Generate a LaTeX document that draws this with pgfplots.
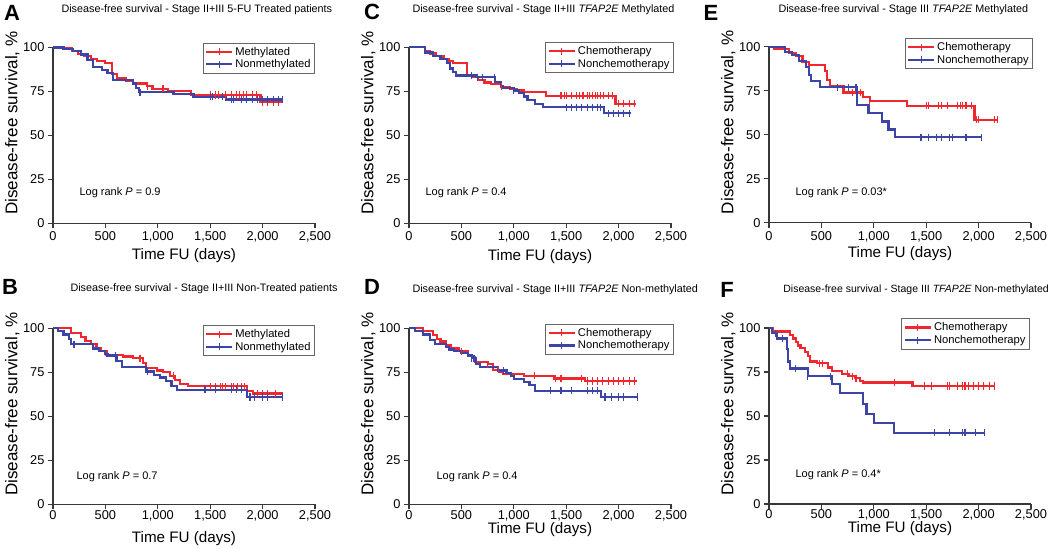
\documentclass[border=0pt]{standalone}
\usepackage{pgfplots}
\pgfplotsset{compat=1.18}
\usepackage{fontspec}
\setmainfont{Liberation Sans}
\definecolor{kmred}{RGB}{238,40,46}
\definecolor{kmblue}{RGB}{60,68,166}
\definecolor{axgray}{RGB}{55,55,55}
\pgfplotsset{
  km/.style={
    scale only axis, width=262pt, height=176pt,
    xmin=0, xmax=2500, ymin=0, ymax=100,
    axis x line=bottom, axis y line=left,
    axis line style={-, line width=1.1pt, axgray},
    tick align=outside, major tick length=5pt,
    tick style={line width=1.1pt, axgray},
    xtick={0,500,1000,1500,2000,2500}, ytick={0,25,50,75,100},
    ticklabel style={font=\fontsize{12.8}{14}\selectfont},
    /pgf/number format/assume math mode=true,
    xlabel={Time FU (days)}, ylabel={Disease-free survival, \%},
    xlabel style={font=\fontsize{15.2}{17}\selectfont, anchor=center},
    ylabel style={font=\fontsize{17}{19}\selectfont, at={(axis description cs:-0.155,0.57)}, anchor=center},
    clip=false,
    legend style={font=\fontsize{11.2}{12.5}\selectfont, draw=black!60, line width=0.8pt,
      anchor=north east, inner sep=2pt, cells={anchor=west}, row sep=-1pt},
    legend image code/.code={
      \draw[##1] (0pt,0pt) -- (26pt,0pt);
      \draw[##1, line width=1.1pt] (13pt,-3.5pt) -- (13pt,3.5pt);
    },
  },
  row2/.style={xticklabel style={yshift=2.5pt}},
  redline/.style={kmred, line width=2.2pt, const plot},
  blueline/.style={kmblue, line width=2.2pt, const plot},
  redcens/.style={kmred, only marks, mark=|, mark size=3.6pt, mark options={line width=1.1pt}, forget plot},
  bluecens/.style={kmblue, only marks, mark=|, mark size=3.6pt, mark options={line width=1.1pt}, forget plot},
}
\begin{document}
\begin{tikzpicture}
\path[use as bounding box] (0pt,0pt) rectangle (1050pt,549pt);

% ---------------- A ----------------
\begin{axis}[km, at={(53pt,325.5pt)}, anchor=south west,
  xlabel style={at={(axis description cs:0.5,-0.185)}},
  legend style={at={(axis description cs:1.0,1.028)}}]
\addplot[redline] coordinates {(0,100) (80,99.5) (180,98) (240,96.5) (300,95) (360,93.5) (420,92.5) (500,91) (565,85) (610,82.5) (700,81) (760,79.5) (900,78) (950,76.5) (1100,75.5) (1320,73) (1980,69) (2190,69)};
\addplot[blueline] coordinates {(0,100) (100,99) (190,98) (270,96) (330,93) (380,89) (470,87) (520,85.5) (570,81.5) (760,79.5) (790,77) (820,74.5) (1150,73.5) (1340,72) (1650,70.5) (2190,70.5)};
\addplot[redcens] coordinates {(900,78) (1050,76.5) (1500,73) (1550,73) (1580,73) (1650,73) (1700,73) (1750,73) (1780,73) (1820,73) (1850,73) (1900,73) (1940,73) (2000,69) (2050,69) (2100,69) (2150,69)};
\addplot[bluecens] coordinates {(830,74.5) (1500,72) (1520,72) (1620,72) (1700,70.5) (1720,70.5) (1800,70.5) (1850,70.5) (1900,70.5) (1950,70.5) (2000,70.5) (2050,70.5) (2100,70.5) (2150,70.5) (2190,70.5)};
\legend{Methylated, Nonmethylated}
\end{axis}

% ---------------- C ----------------
\begin{axis}[km, at={(409pt,325.7pt)}, anchor=south west,
  xlabel style={at={(axis description cs:0.5,-0.19)}},
  legend style={at={(axis description cs:1.011,1.03)}}]
\addplot[redline] coordinates {(0,100) (150,98) (200,96.5) (260,95) (330,93.5) (380,92) (420,91) (550,84) (610,83) (660,81.5) (720,80) (780,79) (880,77.5) (960,76.5) (1030,75.5) (1100,74.5) (1310,72.5) (1970,68) (2170,68)};
\addplot[blueline] coordinates {(0,100) (150,97) (230,95) (300,93.5) (360,91) (390,88) (420,86) (450,84) (650,83) (820,80.5) (880,78) (900,77) (1000,75.5) (1050,74) (1100,72) (1130,70) (1200,68) (1280,66) (1860,62.5) (2120,62.5)};
\addplot[redcens] coordinates {(880,77.5) (1450,72.5) (1480,72.5) (1500,72.5) (1550,72.5) (1600,72.5) (1630,72.5) (1660,72.5) (1700,72.5) (1720,72.5) (1750,72.5) (1780,72.5) (1800,72.5) (1830,72.5) (1860,72.5) (1900,72.5) (1940,72.5) (2000,68) (2050,68) (2100,68) (2150,68)};
\addplot[bluecens] coordinates {(600,84) (650,83) (700,83) (820,83) (1000,75.5) (1500,66) (1550,66) (1600,66) (1650,66) (1700,66) (1750,66) (1800,66) (1830,66) (1900,62.5) (1950,62.5) (2000,62.5) (2050,62.5) (2100,62.5)};
\legend{Chemotherapy, Nonchemotherapy}
\end{axis}

% ---------------- E ----------------
\begin{axis}[km, at={(769pt,326.3pt)}, anchor=south west,
  xlabel style={at={(axis description cs:0.5,-0.175)}},
  legend style={at={(axis description cs:1.008,1.049)}}]
\addplot[redline] coordinates {(0,100) (50,98.5) (190,96.5) (260,94.5) (320,91.5) (380,89.5) (535,86) (555,81) (585,77.5) (710,74) (900,71.5) (960,69) (1315,66.5) (1960,58.5) (2180,58.5)};
\addplot[blueline] coordinates {(0,100) (155,97) (220,95.5) (290,92) (350,88.5) (380,84) (400,80.5) (490,77) (840,67) (950,62.5) (1075,57.5) (1140,53) (1205,48.5) (2030,48.5)};
\addplot[redcens] coordinates {(800,74) (870,74) (960,69) (1500,66.5) (1520,66.5) (1620,66.5) (1650,66.5) (1700,66.5) (1800,66.5) (1830,66.5) (1850,66.5) (1880,66.5) (1930,66.5) (1980,58.5) (2000,58.5) (2150,58.5) (2180,58.5)};
\addplot[bluecens] coordinates {(650,77) (760,77) (830,77) (1450,48.5) (1520,48.5) (1600,48.5) (1650,48.5) (1720,48.5) (1750,48.5) (1880,48.5) (2030,48.5)};
\legend{Chemotherapy, Nonchemotherapy}
\end{axis}

% ---------------- B ----------------
\begin{axis}[km, row2, at={(53pt,44.7pt)}, anchor=south west,
  xlabel style={at={(axis description cs:0.5,-0.194)}},
  legend style={at={(axis description cs:1.0,1.019)}}]
\addplot[redline] coordinates {(0,100) (170,97.5) (265,95) (310,93) (365,91) (415,89) (460,87) (510,85) (670,84) (765,83) (860,80.5) (890,77.5) (990,76) (1050,75) (1115,73) (1165,70.5) (1210,68.5) (1290,67) (1850,64.5) (1910,63) (2190,63)};
\addplot[blueline] coordinates {(0,100) (50,98.5) (100,96.5) (150,94) (175,91) (380,88.5) (440,87) (500,85.5) (520,84.5) (605,81.5) (655,78) (890,75.5) (960,73.5) (1020,72) (1080,70) (1130,67) (1180,65) (1850,61) (2190,61)};
\addplot[redcens] coordinates {(830,83) (1150,73) (1500,67) (1550,67) (1600,67) (1620,67) (1650,67) (1700,67) (1720,67) (1760,67) (1800,67) (1830,67) (1950,63) (2000,63) (2050,63) (2120,63)};
\addplot[bluecens] coordinates {(200,91) (600,84.5) (900,75.5) (1450,65) (1550,65) (1700,65) (1750,65) (1800,65) (1880,61) (1920,61) (2000,61) (2050,61) (2190,61)};
\legend{Methylated, Nonmethylated}
\end{axis}

% ---------------- D ----------------
\begin{axis}[km, row2, at={(409pt,44.7pt)}, anchor=south west,
  xlabel style={at={(axis description cs:0.5,-0.142)}},
  legend style={at={(axis description cs:1.011,1.026)}}]
\addplot[redline] coordinates {(0,100) (130,98.5) (230,96) (270,94) (300,92.5) (350,90.5) (400,88.5) (480,87) (560,85) (600,83.5) (630,81) (750,79.5) (800,76.5) (870,75) (900,74) (1100,73) (1380,71.5) (1680,70) (2180,70)};
\addplot[blueline] coordinates {(0,100) (60,98.5) (130,96.5) (200,93.5) (250,91) (350,89.5) (380,88) (430,87) (500,86) (560,84.5) (600,83) (640,79.5) (680,78) (850,76) (930,74.5) (970,73) (1000,71) (1100,69.5) (1150,68) (1200,64.5) (1830,61) (2180,61)};
\addplot[redcens] coordinates {(500,87) (750,79.5) (850,76.5) (1200,73) (1400,71.5) (1450,71.5) (1650,71.5) (1700,70) (1750,70) (1800,70) (1850,70) (1900,70) (1950,70) (2000,70) (2050,70) (2100,70) (2150,70)};
\addplot[bluecens] coordinates {(600,83) (620,83) (900,76) (1350,64.5) (1450,64.5) (1550,64.5) (1700,64.5) (1750,64.5) (1800,64.5) (1870,61) (1930,61) (2000,61) (2050,61) (2180,61)};
\legend{Chemotherapy, Nonchemotherapy}
\end{axis}

% ---------------- F ----------------
\begin{axis}[km, row2, at={(769pt,45pt)}, anchor=south west,
  xlabel style={at={(axis description cs:0.5,-0.142)}},
  legend style={at={(axis description cs:0.996,1.055)}}]
\addplot[redline] coordinates {(0,100) (40,98) (200,96) (230,94) (260,92) (280,90) (300,88.5) (340,86.5) (370,84) (390,81) (460,80) (560,77.5) (600,75.5) (700,74) (760,72.5) (820,71.5) (870,70) (900,69) (1370,67) (2160,67)};
\addplot[blueline] coordinates {(0,100) (30,97) (80,94) (170,88) (185,81) (200,77) (370,72.5) (600,68) (680,63) (900,57) (930,51) (1000,46) (1190,40.5) (2060,40.5)};
\addplot[redcens] coordinates {(480,80) (510,80) (750,74) (800,72.5) (830,71.5) (1200,69) (1480,67) (1550,67) (1700,67) (1720,67) (1800,67) (1850,67) (1870,67) (1900,67) (1950,67) (2000,67) (2050,67) (2100,67) (2150,67)};
\addplot[bluecens] coordinates {(60,97) (130,94) (250,77) (370,72.5) (590,72.5) (1580,40.5) (1720,40.5) (1850,40.5) (1870,40.5) (1970,40.5) (2060,40.5)};
\legend{Chemotherapy, Nonchemotherapy}
\end{axis}

% titles
\node[anchor=west, font=\fontsize{10.8}{12}\selectfont] at (58pt,539pt) {Disease-free survival - Stage II+III 5-FU Treated patients};
\node[anchor=west, font=\fontsize{10.8}{12}\selectfont] at (409pt,539pt) {Disease-free survival - Stage II+III \textit{TFAP2E} Methylated};
\node[anchor=west, font=\fontsize{10.8}{12}\selectfont] at (775pt,539pt) {Disease-free survival - Stage III \textit{TFAP2E} Methylated};
\node[anchor=west, font=\fontsize{10.8}{12}\selectfont] at (67pt,260pt) {Disease-free survival - Stage II+III Non-Treated patients};
\node[anchor=west, font=\fontsize{10.8}{12}\selectfont] at (409pt,259pt) {Disease-free survival - Stage II+III \textit{TFAP2E} Non-methylated};
\node[anchor=east, inner sep=1pt, font=\fontsize{10.5}{12}\selectfont] at (1050pt,259pt) {Disease-free survival - Stage III \textit{TFAP2E} Non-methylated};
% panel letters
\node[font=\fontsize{22}{24}\selectfont\bfseries] at (12pt,536pt) {A};
\node[font=\fontsize{22}{24}\selectfont\bfseries] at (10pt,262pt) {B};
\node[font=\fontsize{22}{24}\selectfont\bfseries] at (372pt,537.5pt) {C};
\node[font=\fontsize{22}{24}\selectfont\bfseries] at (372pt,262.5pt) {D};
\node[font=\fontsize{22}{24}\selectfont\bfseries] at (711pt,536.5pt) {E};
\node[font=\fontsize{22}{24}\selectfont\bfseries] at (727pt,259pt) {F};
% log rank
\node[anchor=west, font=\fontsize{11}{13}\selectfont] at (76pt,356pt) {Log rank \textit{P} = 0.9};
\node[anchor=west, font=\fontsize{11}{13}\selectfont] at (73pt,72.5pt) {Log rank \textit{P} = 0.7};
\node[anchor=west, font=\fontsize{11}{13}\selectfont] at (422pt,356pt) {Log rank \textit{P} = 0.4};
\node[anchor=west, font=\fontsize{11}{13}\selectfont] at (433pt,72.5pt) {Log rank \textit{P} = 0.4};
\node[anchor=west, font=\fontsize{11}{13}\selectfont] at (792pt,356pt) {Log rank \textit{P} = 0.03*};
\node[anchor=west, font=\fontsize{11}{13}\selectfont] at (792pt,74pt) {Log rank \textit{P} = 0.4*};
\end{tikzpicture}
\end{document}
